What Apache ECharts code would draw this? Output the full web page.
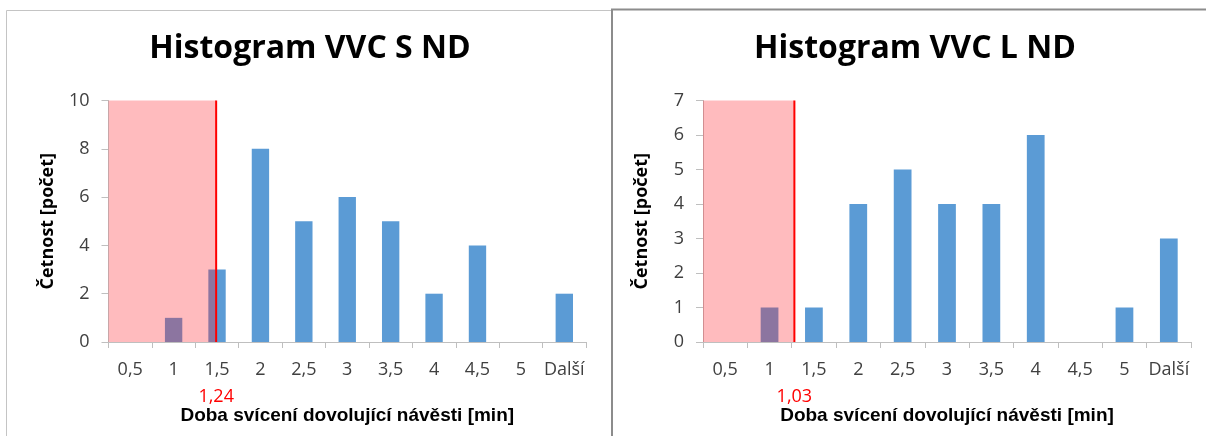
<!DOCTYPE html>
<html>
<head>
<meta charset="utf-8">
<title>Histogramy VVC</title>
<script src="https://cdn.jsdelivr.net/npm/echarts@6/dist/echarts.min.js"></script>
<style>
  html, body { margin: 0; padding: 0; background: #ffffff; }
  #chart { width: 1206px; height: 436px; }
</style>
</head>
<body>
<div id="chart"></div>
<script>
// Histogram bins (upper bounds, minutes) and counts for both signals
const bins = ['0,5', '1', '1,5', '2', '2,5', '3', '3,5', '4', '4,5', '5', 'Další'];
const countsS = [0, 1, 3, 8, 5, 6, 5, 2, 4, 0, 2];
const countsL = [0, 1, 1, 4, 5, 4, 4, 6, 0, 1, 3];
const titleS = 'Histogram VVC S ND';
const titleL = 'Histogram VVC L ND';
// Threshold (minutes) marked by the red line and shaded zone
const thresholdS = 1.24;
const thresholdL = 1.03;
const yMaxS = 10, yStepS = 2;
const yMaxL = 7, yStepL = 1;
const binWidth = 0.5;           // each bin spans half a minute
const xTitle = 'Doba svícení dovolující návěsti [min]';
const yTitle = 'Četnost [počet]';

const chart = echarts.init(document.getElementById('chart'), null, { renderer: 'canvas' });

const labelFont = '"Open Sans", Lato, sans-serif';
const axisGray = '#bfbfbf';

function catAxis(gridIndex) {
  return {
    type: 'category', gridIndex, data: bins,
    boundaryGap: true,
    axisLine: { show: true, lineStyle: { color: axisGray, width: 1 } },
    axisTick: { show: true, alignWithLabel: false, interval: 0, length: 6, lineStyle: { color: axisGray } },
    axisLabel: { interval: 0, margin: 19, color: '#404040', fontFamily: labelFont, fontSize: 18 },
    name: xTitle, nameLocation: 'middle', nameGap: 64,
    nameTextStyle: { fontFamily: '"Liberation Sans", Arial, sans-serif', fontWeight: 'bold', fontSize: 19, color: '#000', verticalAlign: 'top' }
  };
}
// Continuous minute scale over the same width: bin i covers (i*0.5, (i+1)*0.5]
function minuteAxis(gridIndex) {
  return { type: 'value', gridIndex, min: 0, max: bins.length * binWidth, show: false };
}
function valAxis(gridIndex, max, step) {
  return {
    type: 'value', gridIndex, min: 0, max, interval: step,
    splitLine: { show: false },
    axisLine: { show: true, lineStyle: { color: axisGray } },
    axisTick: { show: true, length: 7, lineStyle: { color: axisGray } },
    axisLabel: { margin: 19, color: '#404040', fontFamily: labelFont, fontSize: 18 },
    name: yTitle, nameLocation: 'middle', nameRotate: 90, nameGap: 52,
    nameTextStyle: { fontFamily: labelFont, fontWeight: 'bold', fontSize: 18, color: '#000' }
  };
}
function barSeries(idx, data) {
  return {
    type: 'bar', xAxisIndex: idx * 2, yAxisIndex: idx, data,
    barWidth: '40%', itemStyle: { color: '#5b9bd5' }, z: 2, silent: true
  };
}
function thresholdSeries(idx, value, ymax) {
  return {
    type: 'custom', xAxisIndex: idx * 2 + 1, yAxisIndex: idx, clip: false, z: 5, silent: true,
    data: [[value, ymax]],
    renderItem(params, api) {
      const x0 = api.coord([0, 0]);
      const top = api.coord([api.value(0), api.value(1)]);
      const base = api.coord([api.value(0), 0]);
      const label = api.value(0).toFixed(2).replace('.', ',');
      return {
        type: 'group',
        children: [
          { type: 'rect', shape: { x: x0[0], y: top[1], width: base[0] - x0[0], height: base[1] - top[1] },
            style: { fill: 'rgba(255, 30, 40, 0.3)' } },
          { type: 'line', shape: { x1: base[0], y1: top[1], x2: base[0], y2: base[1] },
            style: { stroke: '#ff0000', lineWidth: 2 } },
          { type: 'text', x: base[0], y: base[1] + 55,
            style: { text: label, fill: '#ff0000', font: '18px ' + labelFont, align: 'center', verticalAlign: 'middle' } }
        ]
      };
    }
  };
}

chart.setOption({
  animation: false,
  backgroundColor: '#ffffff',
  graphic: [
    { type: 'rect', shape: { x: 6.5, y: 10.5, width: 605, height: 440 }, style: { fill: null, stroke: '#c4c4c4', lineWidth: 1 }, z: -1 },
    { type: 'rect', shape: { x: 612, y: 9.5, width: 600, height: 440 }, style: { fill: null, stroke: '#8c8c8c', lineWidth: 2 }, z: -1 },
    { type: 'text', x: 310, y: 49, style: { text: titleS, font: 'bold 32px ' + labelFont, fill: '#000', align: 'center', verticalAlign: 'middle' } },
    { type: 'text', x: 915, y: 49, style: { text: titleL, font: 'bold 32px ' + labelFont, fill: '#000', align: 'center', verticalAlign: 'middle' } }
  ],
  grid: [
    { left: 108.5, top: 100.5, width: 477.5, height: 241.5 },
    { left: 703, top: 100.5, width: 488, height: 241.5 }
  ],
  xAxis: [catAxis(0), minuteAxis(0), catAxis(1), minuteAxis(1)],
  yAxis: [valAxis(0, yMaxS, yStepS), valAxis(1, yMaxL, yStepL)],
  series: [
    barSeries(0, countsS),
    barSeries(1, countsL),
    thresholdSeries(0, thresholdS, yMaxS),
    thresholdSeries(1, thresholdL, yMaxL)
  ]
});
</script>
</body>
</html>
